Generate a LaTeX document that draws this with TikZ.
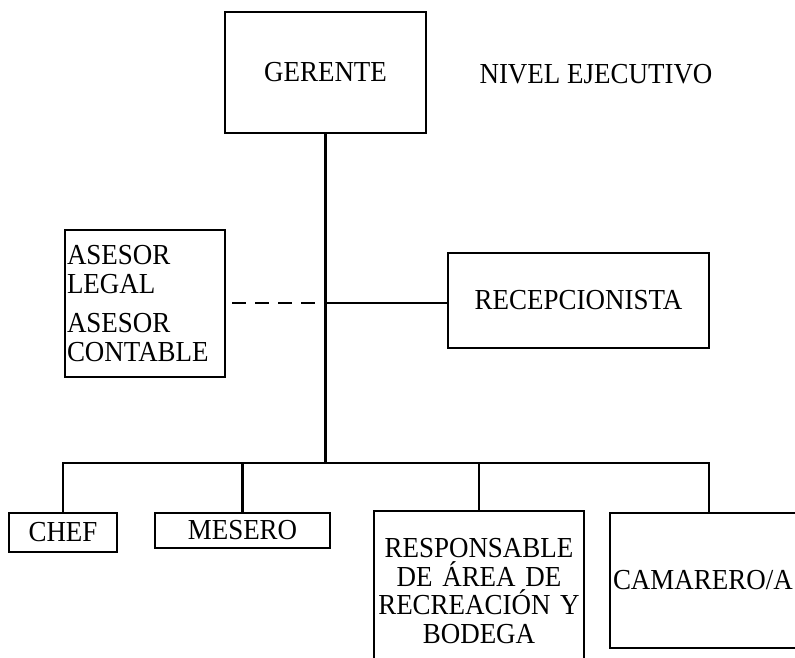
\documentclass[tikz,border=0pt]{standalone}
\usepackage{fontspec}
\setmainfont{Liberation Serif}[FakeStretch=0.93]
\usetikzlibrary{positioning}

\begin{document}
\begin{tikzpicture}[x=1pt,y=-1pt,line width=2.6pt,
    every node/.style={draw,rectangle,inner sep=2pt,
    font=\fontsize{29}{28.5}\selectfont}]
  \clip (0,0) rectangle (795,657);
  \node[minimum width=201,minimum height=121] (gerente) at (325.5,72.5) {GERENTE};
  \node[draw=none] (nivel) at (596,74) {NIVEL EJECUTIVO};

  \node[minimum width=160,minimum height=147,text width=156,align=left]
    (asesor) at (145,303.5) {ASESOR\\LEGAL\\[11pt]ASESOR\\CONTABLE};
  \node[minimum width=261,minimum height=95] (recep) at (578.5,300.5) {RECEPCIONISTA};

  \node[minimum width=108,minimum height=39] (chef) at (63,532.5) {CHEF};
  \node[minimum width=175,minimum height=35] (mesero) at (242.5,530.5) {MESERO};
  \node[minimum width=210,minimum height=160,text width=208,inner xsep=1pt,
    align=center] (resp) at (479,591)
    {RESPONSABLE\\DE ÁREA DE\\RECREACIÓN~Y\\BODEGA};
  \node[minimum width=198,minimum height=135,text width=192,align=left,
    inner xsep=3pt] (cam) at (709,580.5) {CAMARERO/A};

  \coordinate (j) at (325.5,303);
  \coordinate (bus) at (325.5,463);
  \draw (gerente) -- (bus);
  \draw[dash pattern=on 14pt off 9pt,shorten <=6pt,shorten >=9pt]
    (asesor.east |- j) -- (j);
  \draw (j) -- (recep.west |- j);
  \draw (chef) |- (bus) -| (cam);
  \draw (mesero) -- (mesero |- bus);
  \draw (resp) -- (resp |- bus);
\end{tikzpicture}
\end{document}
